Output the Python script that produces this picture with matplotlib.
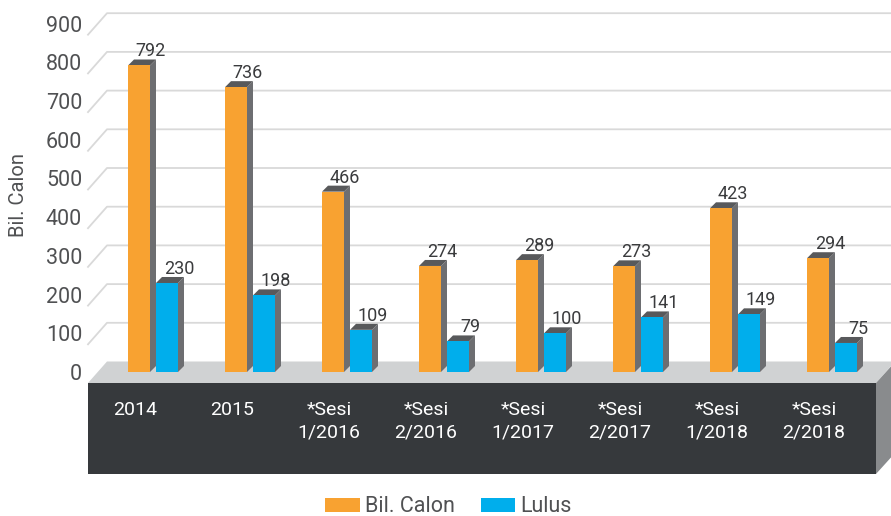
import matplotlib
matplotlib.use("Agg")
import matplotlib.pyplot as plt
from matplotlib.patches import Polygon, Patch
import numpy as np

categories = ["2014", "2015", "*Sesi\n1/2016", "*Sesi\n2/2016", "*Sesi\n1/2017",
              "*Sesi\n2/2017", "*Sesi\n1/2018", "*Sesi\n2/2018"]
bil_calon = [792, 736, 466, 274, 289, 273, 423, 294]
lulus = [230, 198, 109, 79, 100, 141, 149, 75]
yticks = [0, 100, 200, 300, 400, 500, 600, 700, 800, 900]

orange = "#F8A231"
blue = "#00AEEC"
side_c = "#6D6E71"
top_c = "#58595B"
text_c = "#505153"
grid_c = "#D9D9D9"
floor_c = "#D0D2D3"
base_c = "#36393C"
base_side = "#898B8D"

plt.rcParams["font.family"] = ["Roboto", "DejaVu Sans"]

W, H = 891, 516
fig = plt.figure(figsize=(W / 100, H / 100), dpi=100)
# axes = the plane the bars stand in (mid depth of the floor)
left_px, right_px, zero_px, top_px = 97.5, 885.5, 372, 23.7
ax = fig.add_axes([left_px / W, (H - zero_px) / H, (right_px - left_px) / W, (zero_px - top_px) / H])
x = np.arange(len(categories))
xl = (left_px - 153) / 97
xr = (right_px - 153) / 97
ax.set_xlim(xl, xr)
ax.set_ylim(0, 900)
for s in ax.spines.values():
    s.set_visible(False)
ax.set_xticks([])
ax.set_yticks(yticks)
ax.tick_params(axis="y", length=0, pad=11, labelsize=15.5, labelcolor=text_c)
ax.set_ylabel("Bil. Calon", fontsize=14.5, color=text_c)
ax.yaxis.set_label_coords((28 - left_px) / (right_px - left_px), (zero_px - 195) / (zero_px - top_px))


def off(px, py, dx, dy):
    X, Y = ax.transData.transform((px, py))
    return ax.transData.inverted().transform((X + dx, Y + dy))


def poly(pts, color, z):
    ax.add_patch(Polygon(pts, closed=True, facecolor=color, edgecolor="none", zorder=z, clip_on=False))


back = (9.5, 10.5)
front = (-9.5, -11)

# gridlines on the back wall with a diagonal on the left side
for v in yticks[1:]:
    pts = [off(xl, v, *front), off(xl, v, *back), off(xr + 0.2, v, *back)]
    ax.plot([p[0] for p in pts], [p[1] for p in pts], color=grid_c, lw=1.3, zorder=1, clip_on=False)

# floor, base and base side
poly([off(xl, 0, *front), off(xl, 0, *back), off(xr, 0, *back), off(xr, 0, *front)], floor_c, 2)
poly([off(xl, 0, -9.5, -11), off(xr, 0, -9.5, -11), off(xr, 0, -9.5, -102), off(xl, 0, -9.5, -102)], base_c, 2)
poly([off(xr, 0, -9.5, -11), off(xr, 0, 9.5, 10), off(xr, 0, 9.5, -81), off(xr, 0, -9.5, -102)], base_side, 2)

# bars with side and top faces
bw = 22 / 97
shift = 14 / 97
d = 6
for vals, color, sgn in [(bil_calon, orange, -1), (lulus, blue, 1)]:
    xs = x + sgn * shift
    ax.bar(xs, vals, width=bw, color=color, zorder=4)
    for xi, v in zip(xs, vals):
        a, b = xi - bw / 2, xi + bw / 2
        poly([(b, 0), (b, v), off(b, v, d, d), off(b, 0, d, d)], side_c, 3)
        poly([(a, v), (b, v), off(b, v, d, d), off(a, v, d, d)], top_c, 3)
        ax.annotate(str(v), (xi, v), xytext=(8.6, 6.5), textcoords="offset points",
                    ha="center", va="baseline", fontsize=13, color="#3a3b3d", zorder=6,
                    annotation_clip=False)

# category labels on the dark base
for xi, lab in zip(x, categories):
    lx, ly = off(xi, 0, -18, -29)
    ax.text(lx, ly, lab, ha="center", va="top", color="white", fontsize=14,
            linespacing=1.3, zorder=5, clip_on=False)

handles = [Patch(facecolor=orange, label="Bil. Calon"), Patch(facecolor=blue, label="Lulus")]
fig.legend(handles=handles, loc="center", bbox_to_anchor=(448.5 / W, 1 - 507 / H), ncol=2,
           frameon=False, fontsize=15.5, handlelength=1.6, handleheight=0.6,
           handletextpad=0.25, columnspacing=1.2, labelcolor=text_c)

fig.savefig("out.png", dpi=100)
